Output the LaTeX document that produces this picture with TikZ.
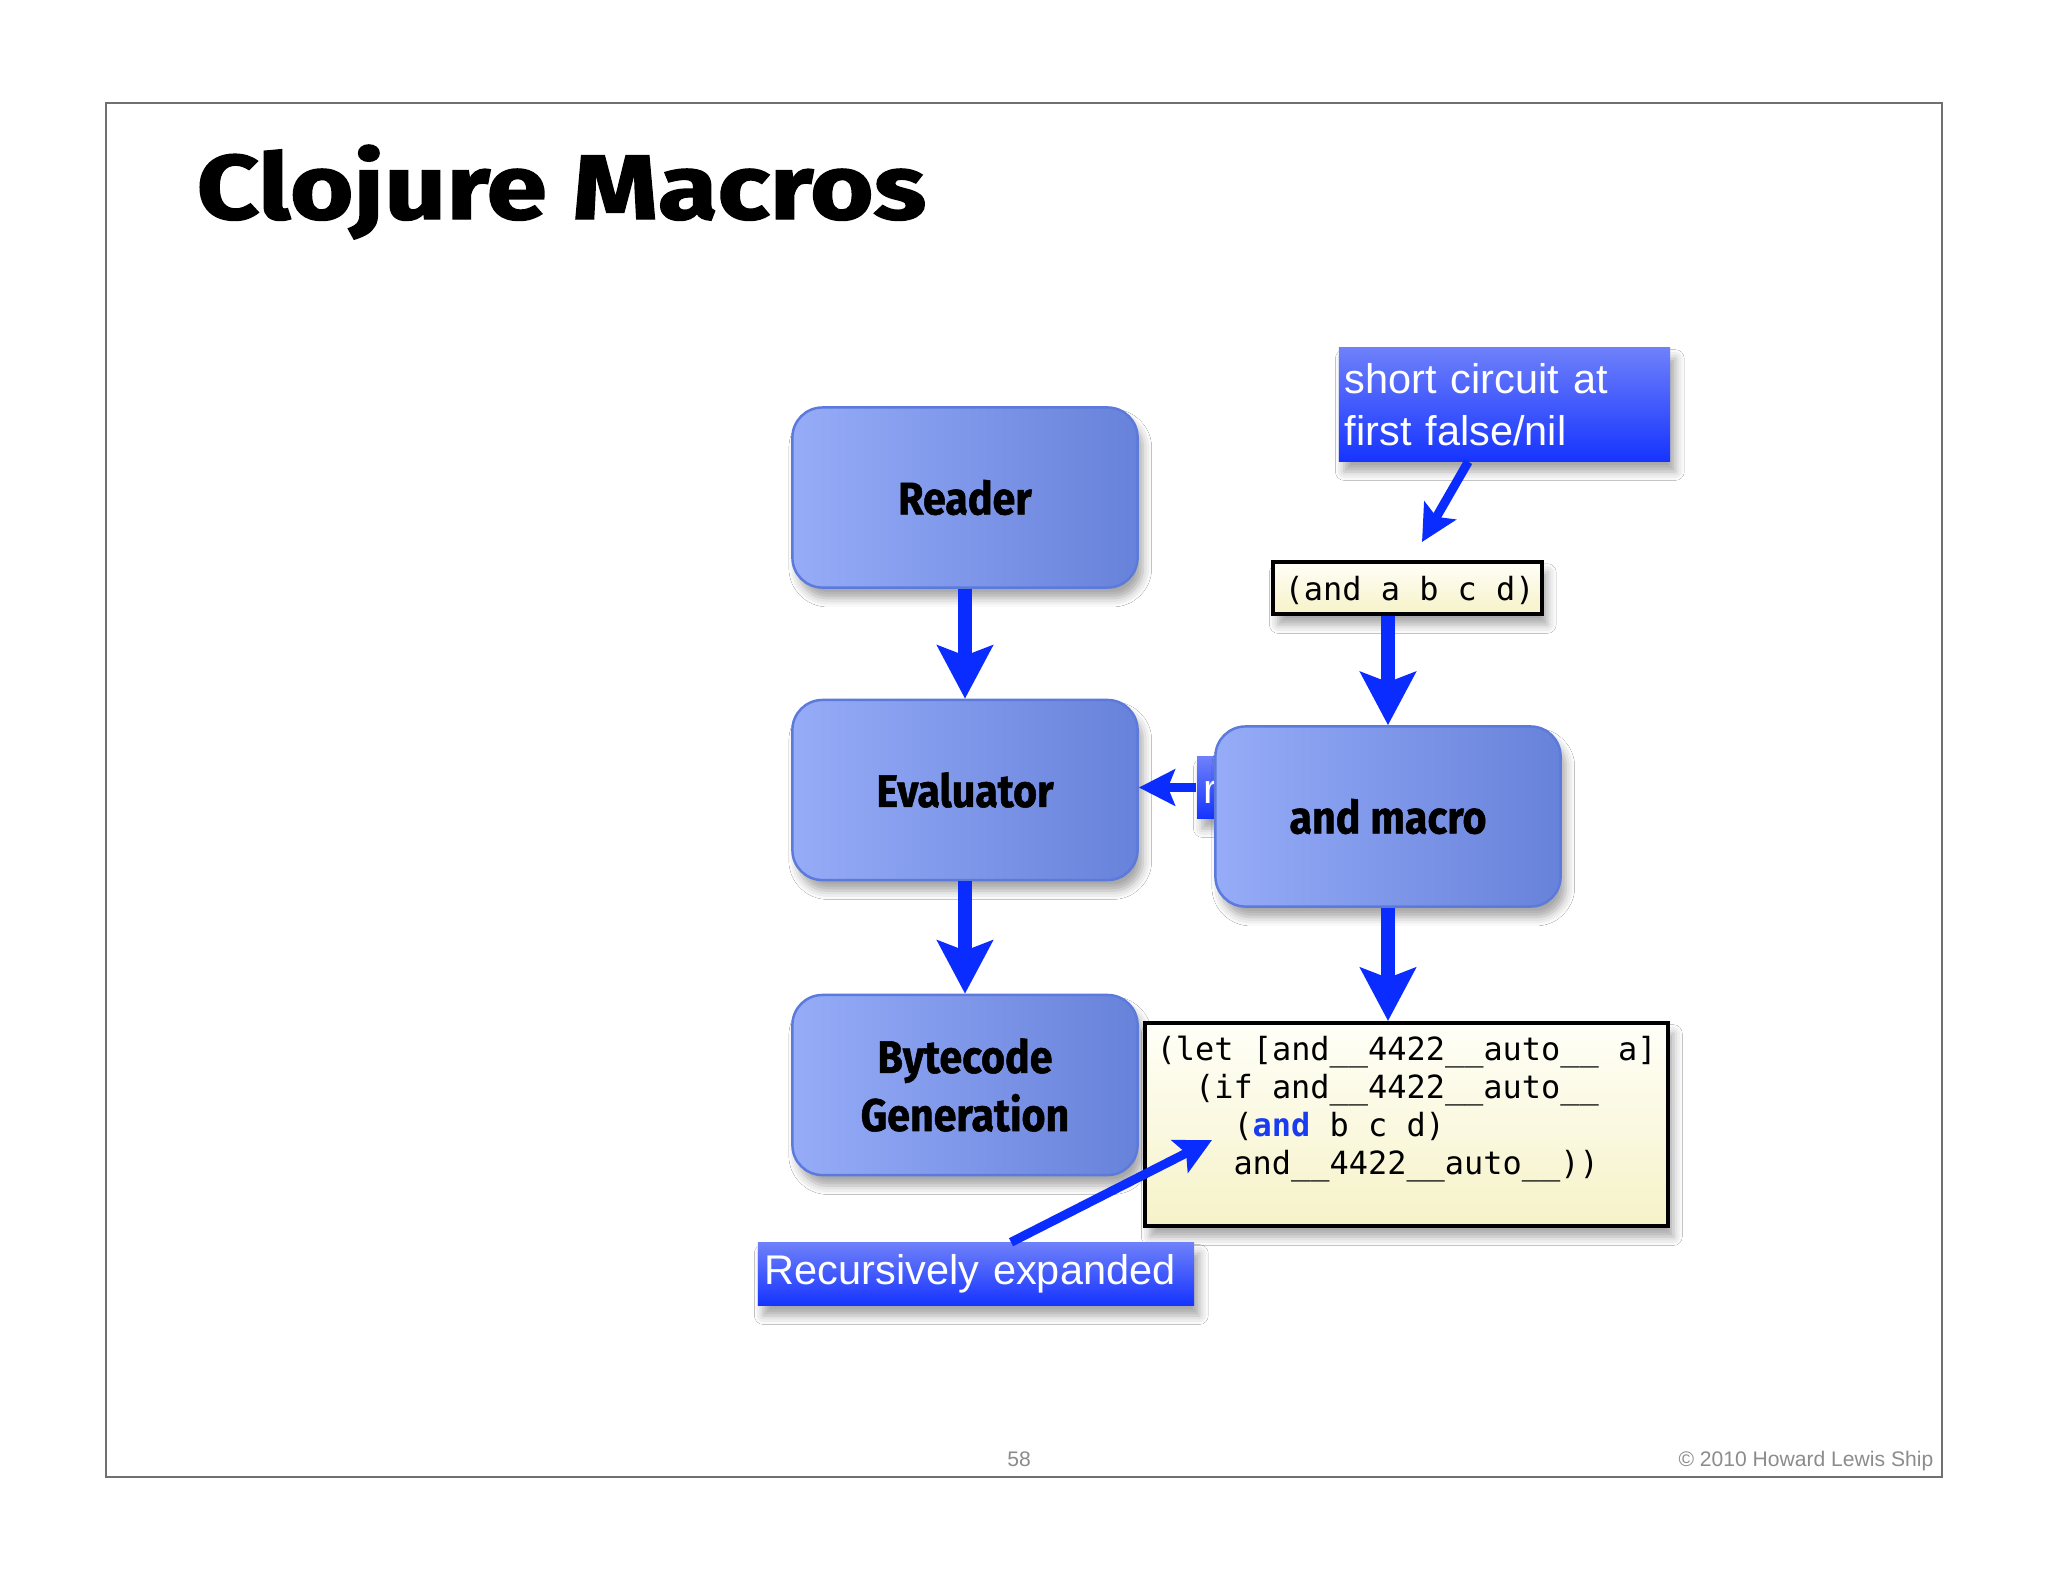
\documentclass[tikz,border=0pt]{standalone}
\usepackage{graphicx}
\usepackage{fontspec}
\setmainfont{Liberation Sans}
\newfontfamily\titlefont{Fira Sans}[BoldFeatures={FakeBold=1.5}]
\newfontfamily\lblfont{Fira Sans}[BoldFeatures={FakeBold=1.2}]
\newfontfamily\codefont{DejaVu Sans Mono}
\usetikzlibrary{arrows.meta,shadows.blur,calc}
\definecolor{arrowblue}{HTML}{0A2CFF}
\definecolor{boxleft}{HTML}{96ACF8}
\definecolor{boxright}{HTML}{6782DA}
\definecolor{boxedge}{HTML}{5C79DC}
\definecolor{codetop}{HTML}{FFFFF8}
\definecolor{codebot}{HTML}{F6F2C8}
\definecolor{calltop}{HTML}{6E80FA}
\definecolor{callbot}{HTML}{1634FF}
\definecolor{framegray}{HTML}{707070}
\definecolor{footgray}{HTML}{8C8C8C}
\definecolor{kwblue}{HTML}{1A3CF0}
\tikzset{
  softshadow/.style={blur shadow={shadow xshift=1.5pt, shadow yshift=-3pt, shadow blur radius=2.5pt, shadow opacity=35}},
  procbox/.style={rounded corners=0.3cm, draw=boxedge, line width=0.7pt,
    left color=boxleft, right color=boxright,
    minimum width=3.45cm, minimum height=1.8cm, align=center,
    font=\lblfont\bfseries\fontsize{13}{14.5}\selectfont, softshadow},
  codebox/.style={draw=black, line width=1.1pt, top color=codetop, bottom color=codebot, softshadow},
  callout/.style={top color=calltop, bottom color=callbot, text=white, align=left,
    font=\fontsize{11.8}{14.8}\selectfont, softshadow},
  codetext/.style={anchor=base west, inner sep=0pt, font=\codefont\fontsize{9.08}{10.8}\selectfont},
  bigarrow/.style={draw=arrowblue, line width=0.14cm,
    -{Stealth[length=0.53cm, width=0.55cm, inset=0.1cm]}},
  smallarrow/.style={draw=arrowblue, line width=0.09cm,
    -{Stealth[length=0.36cm, width=0.36cm, inset=0.07cm]}},
}
\newcommand{\lbl}[1]{\scalebox{0.9}[1]{#1}}
\begin{document}
\begin{tikzpicture}[x=0.01cm,y=-0.01cm]
\useasboundingbox (0,0) rectangle (2048,1582);
\fill[white] (0,0) rectangle (2048,1582);
% slide frame
\draw[framegray, line width=0.5pt] (106,103) rectangle (1942,1477);
% title
\node[anchor=base west, inner sep=0pt] (title) at (196,219)
  {\scalebox{1}[0.84]{\resizebox{7.29cm}{!}{\titlefont\bfseries Clojure Macros}}};

% truncated label behind "and macro"
\node[callout, minimum width=0.28cm, minimum height=0.61cm, inner sep=0pt] (rbox) at (1211,787.5) {};
\node[anchor=base west, inner sep=0pt, text=white, font=\fontsize{11.8}{14.8}\selectfont] (rtext) at (1203,803) {r};

% process boxes
\node[procbox] (reader) at (965,497.5) {\lbl{Reader}};
\node[procbox] (eval) at (965,790) {\lbl{Evaluator}};
\node[procbox] (bytecode) at (965,1085) {\lbl{Bytecode}\\[2pt]\lbl{Generation}};
\node[procbox] (andmacro) at (1388,816.5) {\lbl{and macro}};

% code boxes
\node[codebox, minimum width=2.69cm, minimum height=0.52cm, inner sep=0pt] (andform) at (1407.5,588) {};
\node[codetext] (andformtext) at (1284,600) {(and a b c d)};
\node[codebox, minimum width=5.23cm, minimum height=2.03cm, inner sep=0pt] (code) at (1406.5,1124.5) {};
\node[codetext] (code1) at (1156,1060) {(let [and\_\_4422\_\_auto\_\_ a]};
\node[codetext] (code2) at (1194.4,1098) {(if and\_\_4422\_\_auto\_\_};
\node[codetext] (code3) at (1232.8,1136) {(\textcolor{kwblue}{\bfseries and} b c d)};
\node[codetext] (code4) at (1232.8,1174) {and\_\_4422\_\_auto\_\_))};

% callouts
\node[callout, minimum width=3.31cm, minimum height=1.13cm, inner xsep=0.06cm, text width=3.19cm] (sc) at (1504.5,404.5)
  {short circuit at\\first false/nil};
\node[callout, minimum width=4.36cm, minimum height=0.6cm, inner xsep=0.07cm, text width=4.22cm] (rec) at (976,1274)
  {Recursively expanded};
\coordinate (sctip) at (1422,542);
\coordinate (rectip) at (1212,1140);

% connectors
\draw[bigarrow] (reader.south) -- (eval.north);
\draw[bigarrow] (eval.south) -- (bytecode.north);
\draw[bigarrow] (andform.south -| andmacro.north) -- (andmacro.north);
\draw[bigarrow] (andmacro.south) -- (andmacro.south |- code.north);
\draw[smallarrow] (rbox.west) -- (rbox.west -| eval.east);
\draw[smallarrow] ($(sc.south west)!0.391!(sc.south east)$) -- (sctip);
\draw[smallarrow] ($(rec.north west)!0.58!(rec.north east)$) -- (rectip);

% footer
\node[anchor=base, inner sep=0pt, text=footgray, font=\fontsize{6}{7}\selectfont] (pagenum) at (1019,1466) {58};
\node[anchor=base east, inner sep=0pt, text=footgray, font=\fontsize{6}{7}\selectfont] (copyright) at (1934,1466) {© 2010 Howard Lewis Ship};
\end{tikzpicture}
\end{document}
